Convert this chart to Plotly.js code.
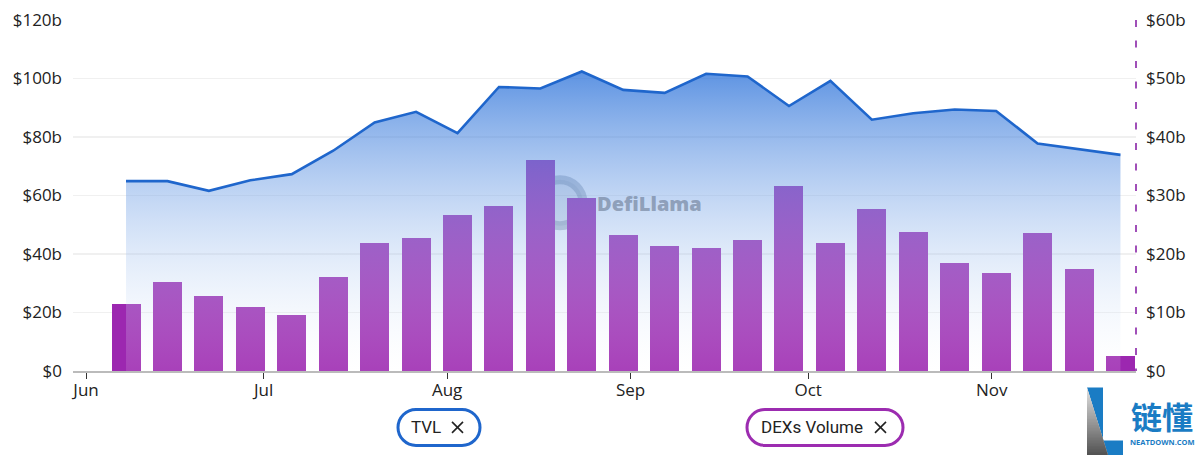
<!DOCTYPE html>
<html><head><meta charset="utf-8">
<script src="https://cdn.plot.ly/plotly-3.0.1.min.js"></script>
<style>html,body{margin:0;padding:0;background:#fff}#c{width:1200px;height:457px}</style></head>
<body><div id="c"></div>
<script>
const dates = ['2021-06-07T18:00','2021-06-14T18:00','2021-06-21T18:00','2021-06-28T18:00','2021-07-05T18:00','2021-07-12T18:00','2021-07-19T18:00','2021-07-26T18:00','2021-08-02T18:00','2021-08-09T18:00','2021-08-16T18:00','2021-08-23T18:00','2021-08-30T18:00','2021-09-06T18:00','2021-09-13T18:00','2021-09-20T18:00','2021-09-27T18:00','2021-10-04T18:00','2021-10-11T18:00','2021-10-18T18:00','2021-10-25T18:00','2021-11-01T18:00','2021-11-08T18:00','2021-11-15T18:00','2021-11-22T18:00'];
const tvl = [64.9,64.9,61.6,65.2,67.3,75.3,85,88.6,81.3,97.1,96.6,102.4,96.1,95.1,101.6,100.7,90.6,99.2,85.9,88.1,89.4,88.9,77.8,75.8,73.9];
const dexVolume = [11.5,15.3,12.9,10.9,9.65,16.0,21.85,22.7,26.7,28.2,36.1,29.6,23.3,21.3,21.1,22.45,31.7,21.85,27.65,23.7,18.5,16.8,23.65,17.5,2.65];
const leftTicks = [0,20,40,60,80,100,120];
const rightTicks = [0,10,20,30,40,50,60];
const fmt = v => v === 0 ? '$0' : '$' + v + 'b';

const W = 1200, H = 457, L = 73, R = 64, T = 20, B = 85.5;
const px = x => (x - L) / (W - L - R);
const py = y => (H - B - y) / (H - T - B);
const pill = (x0, x1, y0, y1) => {
  const r = (y1 - y0) / 2, k = r * 0.55;
  return `M${px(x0 + r)},${py(y0)} L${px(x1 - r)},${py(y0)} C${px(x1 - r + k)},${py(y0)} ${px(x1)},${py(y0 + r - k)} ${px(x1)},${py(y0 + r)} C${px(x1)},${py(y0 + r + k)} ${px(x1 - r + k)},${py(y1)} ${px(x1 - r)},${py(y1)} L${px(x0 + r)},${py(y1)} C${px(x0 + r - k)},${py(y1)} ${px(x0)},${py(y1 - r + k)} ${px(x0)},${py(y0 + r)} C${px(x0)},${py(y0 + r - k)} ${px(x0 + r - k)},${py(y0)} ${px(x0 + r)},${py(y0)} Z`;
};
const poly = pts => 'M' + pts.map(p => px(p[0]) + ',' + py(p[1])).join(' L') + ' Z';
const paperShape = (path, fill, extra) => Object.assign({type:'path', xref:'paper', yref:'paper', path, fillcolor:fill, line:{width:0}}, extra||{});
const paperLine = (x0, y0, x1, y1, color, width, layer) => ({type:'line', xref:'paper', yref:'paper', layer:layer||'above', x0:px(x0), x1:px(x1), y0:py(y0), y1:py(y1), line:{color, width}});
const paperDisc = (cx, cy, r, fill, lineColor, lineWidth) => ({type:'circle', xref:'paper', yref:'paper', layer:'below', x0:px(cx-r), x1:px(cx+r), y0:py(cy+r), y1:py(cy-r), fillcolor:fill, line:{color:lineColor||'rgba(0,0,0,0)', width:lineWidth||0}});
const note = (x, y, text, size, color, family, weight) => ({xref:'paper', yref:'paper', x:px(x), y:py(y), text, showarrow:false, font:{size, color, family:family||'Roboto, sans-serif', weight:weight||400}, xanchor:'center', yanchor:'middle'});
const cross = (cx, cy, r, color) => [paperLine(cx-r,cy-r,cx+r,cy+r,color,1.6), paperLine(cx-r,cy+r,cx+r,cy-r,color,1.6)];

/* gray wedge of the corner logo, as overlapping bands from light to dark */
const wedgeBands = [];
const bandCount = 45, wedgeTop = 388, wedgeBottom = 455.5, wedgeLeft = 1087, wedgeRight = 1108;
for (let i = 0; i < bandCount; i++) {
  const a = i / bandCount, b = Math.min(1, (i + 1.5) / bandCount);
  const ya = wedgeTop + a * (wedgeBottom - wedgeTop), yb = wedgeTop + b * (wedgeBottom - wedgeTop);
  const g = Math.round(225 - 145 * a);
  wedgeBands.push(paperShape(poly([[wedgeLeft, ya],[wedgeLeft + a*(wedgeRight-wedgeLeft), ya],[wedgeLeft + b*(wedgeRight-wedgeLeft), yb],[wedgeLeft, yb]]), `rgb(${g},${g},${g})`));
}

const traces = [
  {type:'bar', name:'DEXs Volume', x:dates, y:dexVolume, yaxis:'y', width:4.9*864e5,
   marker:{color:'#9c27b0', line:{width:0}}, hoverinfo:'skip'},
  {type:'scatter', mode:'lines', name:'TVL', x:dates, y:tvl, yaxis:'y2', fill:'tozeroy',
   line:{color:'#1f66cc', width:2.6, shape:'linear'},
   fillgradient:{type:'vertical', colorscale:[[0,'rgba(255,255,255,0.12)'],[1,'rgba(30,105,215,0.72)']]},
   hoverinfo:'skip'}
];

const tickFont = {size:17, color:'#222', family:'"Open Sans", sans-serif'};
const layout = {
  width:W, height:H, margin:{l:L, r:R, t:T, b:B, pad:0}, paper_bgcolor:'#fff', plot_bgcolor:'#fff',
  showlegend:false, bargap:0,
  font:{family:'"Open Sans", sans-serif', color:'#222', size:16},
  xaxis:{type:'date', range:['2021-05-29T19:00','2021-11-25T09:00'], tick0:'2021-06-01', dtick:'M1', tickformat:'%b',
    ticks:'outside', ticklen:6, tickwidth:1, tickcolor:'#333', showgrid:false, showline:true, linecolor:'#bbb', linewidth:1.5,
    tickfont:tickFont, zeroline:false, ticklabelstandoff:-3},
  yaxis:{range:[0,60], side:'right', tickvals:rightTicks, ticktext:rightTicks.map(fmt), showgrid:false, zeroline:false, showline:false, ticks:'',
    tickfont:tickFont, ticklabelstandoff:9},
  yaxis2:{range:[0,120], side:'left', overlaying:'y', tickvals:leftTicks, ticktext:leftTicks.map(fmt), showgrid:true, gridcolor:'rgba(0,0,0,0.06)', gridwidth:1.5, zeroline:false, showline:false, ticks:'',
    tickfont:tickFont, ticklabelstandoff:10},
  shapes:[
    {type:'line', xref:'paper', yref:'paper', x0:1, x1:1, y0:1, y1:0, line:{color:'#a04fb8', width:2, dash:'7px,13.5px'}},
    paperDisc(560, 203, 23, 'rgba(120,135,155,0.2)', 'rgba(105,120,140,0.42)', 9),
    paperShape(pill(398,480,410,446), 'rgba(0,0,0,0)', {line:{color:'#1f66cc', width:3}}),
    paperShape(pill(747,903,410,446), 'rgba(0,0,0,0)', {line:{color:'#9c2cb0', width:3}}),
    ...cross(457.5,428,5.5,'#222'),
    ...cross(880.5,428,5.5,'#222'),
    paperShape(poly([[1087,388],[1103,388],[1103,441],[1123,441],[1123,455.5],[1108,455.5]]), '#1a7cc4'),
    ...wedgeBands
  ],
  annotations:[
    note(649,204,'DefiLlama',20,'rgba(95,110,135,0.55)','"Open Sans", sans-serif',800),
    note(425.5,428,'TVL',17,'#222'),
    note(812,428,'DEXs Volume',17,'#222'),
    note(1161.5,416,'链懂',31,'#1a7cc4','"Noto Sans CJK SC"',700),
    note(1162.5,443,'NEATDOWN.COM',7.5,'#1a7cc4','"Open Sans", sans-serif',700)
  ]
};
Plotly.newPlot('c', traces, layout, {displayModeBar:false, staticPlot:true});
</script></body></html>
